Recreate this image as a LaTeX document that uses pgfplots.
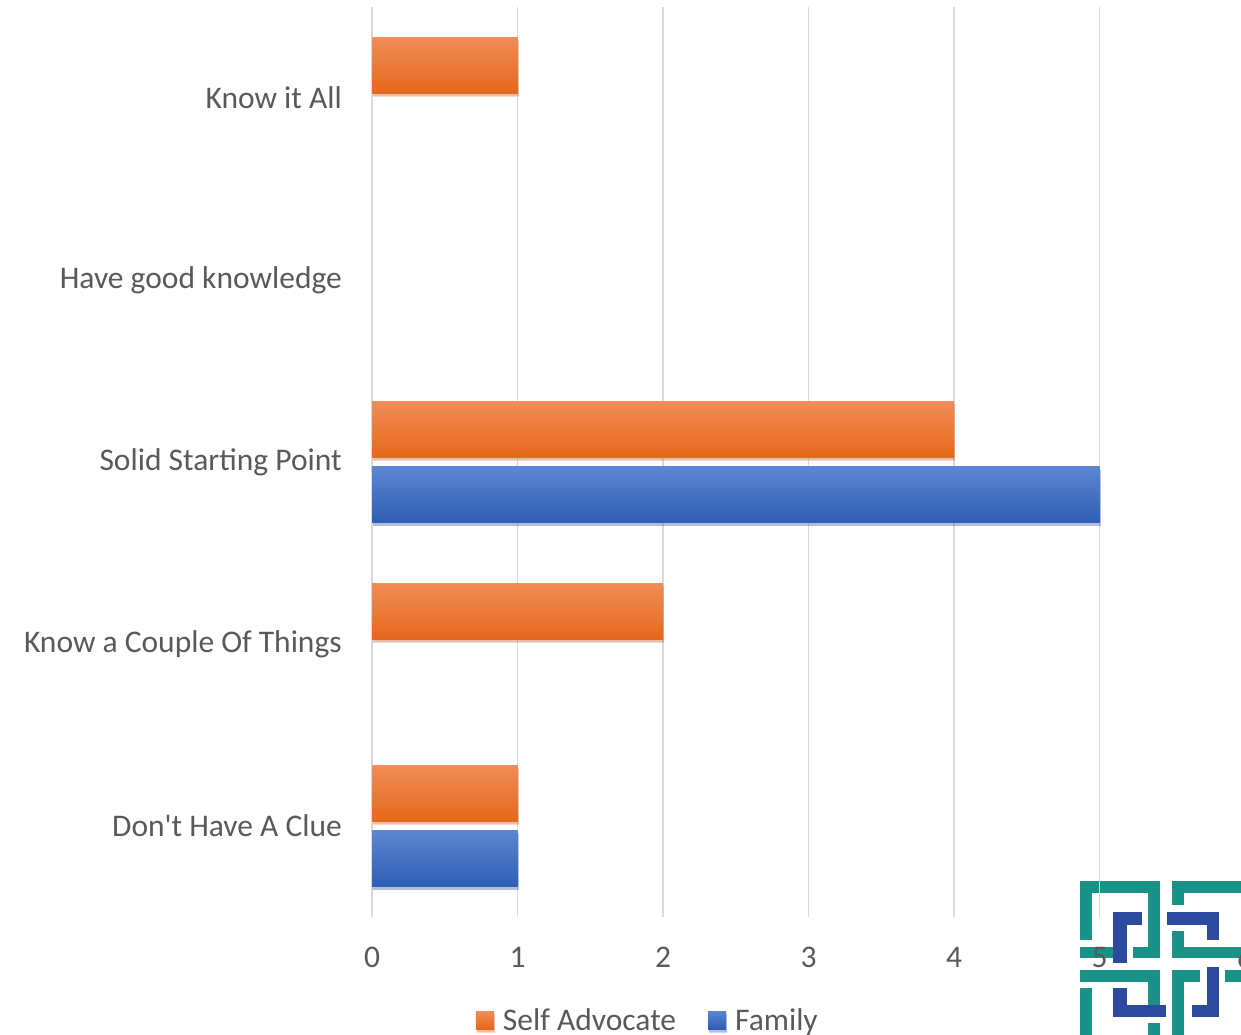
\documentclass[border=0pt]{standalone}
\usepackage{pgfplots}
\pgfplotsset{compat=1.18}
\usetikzlibrary{shadows}
\usepackage{fontspec}
\setmainfont{Carlito}
\definecolor{txt}{HTML}{595959}
\definecolor{gridc}{HTML}{D9D9D9}
\definecolor{orT}{HTML}{F08D57}
\definecolor{orM}{HTML}{F47F2A}
\definecolor{orB}{HTML}{E6671A}
\definecolor{blT}{HTML}{5C86D0}
\definecolor{blM}{HTML}{4270CB}
\definecolor{blB}{HTML}{2E5DB5}
\definecolor{teal}{HTML}{1A9186}
\definecolor{lblue}{HTML}{2E4A9E}
\begin{document}
\begin{tikzpicture}
\path[use as bounding box] (0pt,0pt) rectangle (1241pt,1035pt);
% logo (background decoration)
\begin{scope}[x=1pt,y=-1pt,shift={(0pt,1035pt)}]
\foreach \a/\b/\c/\d in {1080/1092/881/940,1080/1160/881/893,1148/1160/881/958,1133/1160/947/958,
  1080/1113/947/958,1080/1160/970/982,1148/1160/970/1007,1080/1092/988/1035,1148/1160/1023/1035,
  1172/1241/881/893,1172/1184/881/905,1172/1184/931/958,1172/1241/947/958,1172/1200/970/982,
  1225/1241/970/982,1172/1184/970/1035}
  {\fill[teal] (\a,\c) rectangle (\b,\d);}
\foreach \a/\b/\c/\d in {1113/1142/912/925,1113/1127/912/963,1167/1219/912/925,1207/1219/912/940,
  1113/1127/988/1017,1113/1166/1005/1017,1207/1219/967/1017,1192/1219/1005/1017}
  {\fill[lblue] (\a,\c) rectangle (\b,\d);}
\end{scope}
\begin{axis}[
  at={(372pt,118pt)}, anchor=south west,
  width=873pt, height=910pt, scale only axis,
  xbar, bar width=56pt,
  xmin=0, xmax=6, ymin=-0.5, ymax=4.5,
  xtick={0,1,2,3,4,5,6},
  ytick={0,1,2,3,4},
  yticklabels={Don\textquotesingle t Have A Clue, Know a Couple Of Things, Solid Starting Point, Have good knowledge, Know it All},
  axis line style={draw=none},
  major tick length=0pt,
  xmajorgrids, major grid style={gridc, line width=1.6pt},
  tick label style={font=\fontsize{31.5}{38}\selectfont, text=txt},
  yticklabel style={anchor=east, inner sep=0pt, xshift=-30pt},
  xticklabel style={anchor=north, inner sep=0pt, yshift=-30pt},
  /pgf/number format/assume math mode=true,
  legend style={at={(0.316,-0.1132)}, anchor=center, draw=none, fill=none,
    legend columns=-1, font=\fontsize{31.5}{38}\selectfont, text=txt,
    /tikz/every even column/.append style={column sep=30pt},
    inner sep=0pt, cells={anchor=west}},
  legend image code/.code={\fill[#1] (0pt,-9pt) rectangle (18pt,9pt); \path (25pt,0pt);},
  orbar/.style={draw=none, top color=orT, middle color=orM, bottom color=orB, bar shift=32.5pt,
    drop shadow={shadow xshift=1pt, shadow yshift=-3pt, opacity=0.25}},
  blbar/.style={draw=none, top color=blT, middle color=blM, bottom color=blB, bar shift=-33pt,
    drop shadow={shadow xshift=1pt, shadow yshift=-3pt, opacity=0.25}},
]
\addplot[orbar] coordinates {(4,2)};
\addlegendentry{Self Advocate}
\addplot[orbar, forget plot] coordinates {(1,0)};
\addplot[orbar, forget plot] coordinates {(2,1)};
\addplot[orbar, forget plot] coordinates {(1,4)};
\addplot[blbar] coordinates {(5,2)};
\addlegendentry{Family}
\addplot[blbar, forget plot] coordinates {(1,0)};
\end{axis}
\end{tikzpicture}
\end{document}
